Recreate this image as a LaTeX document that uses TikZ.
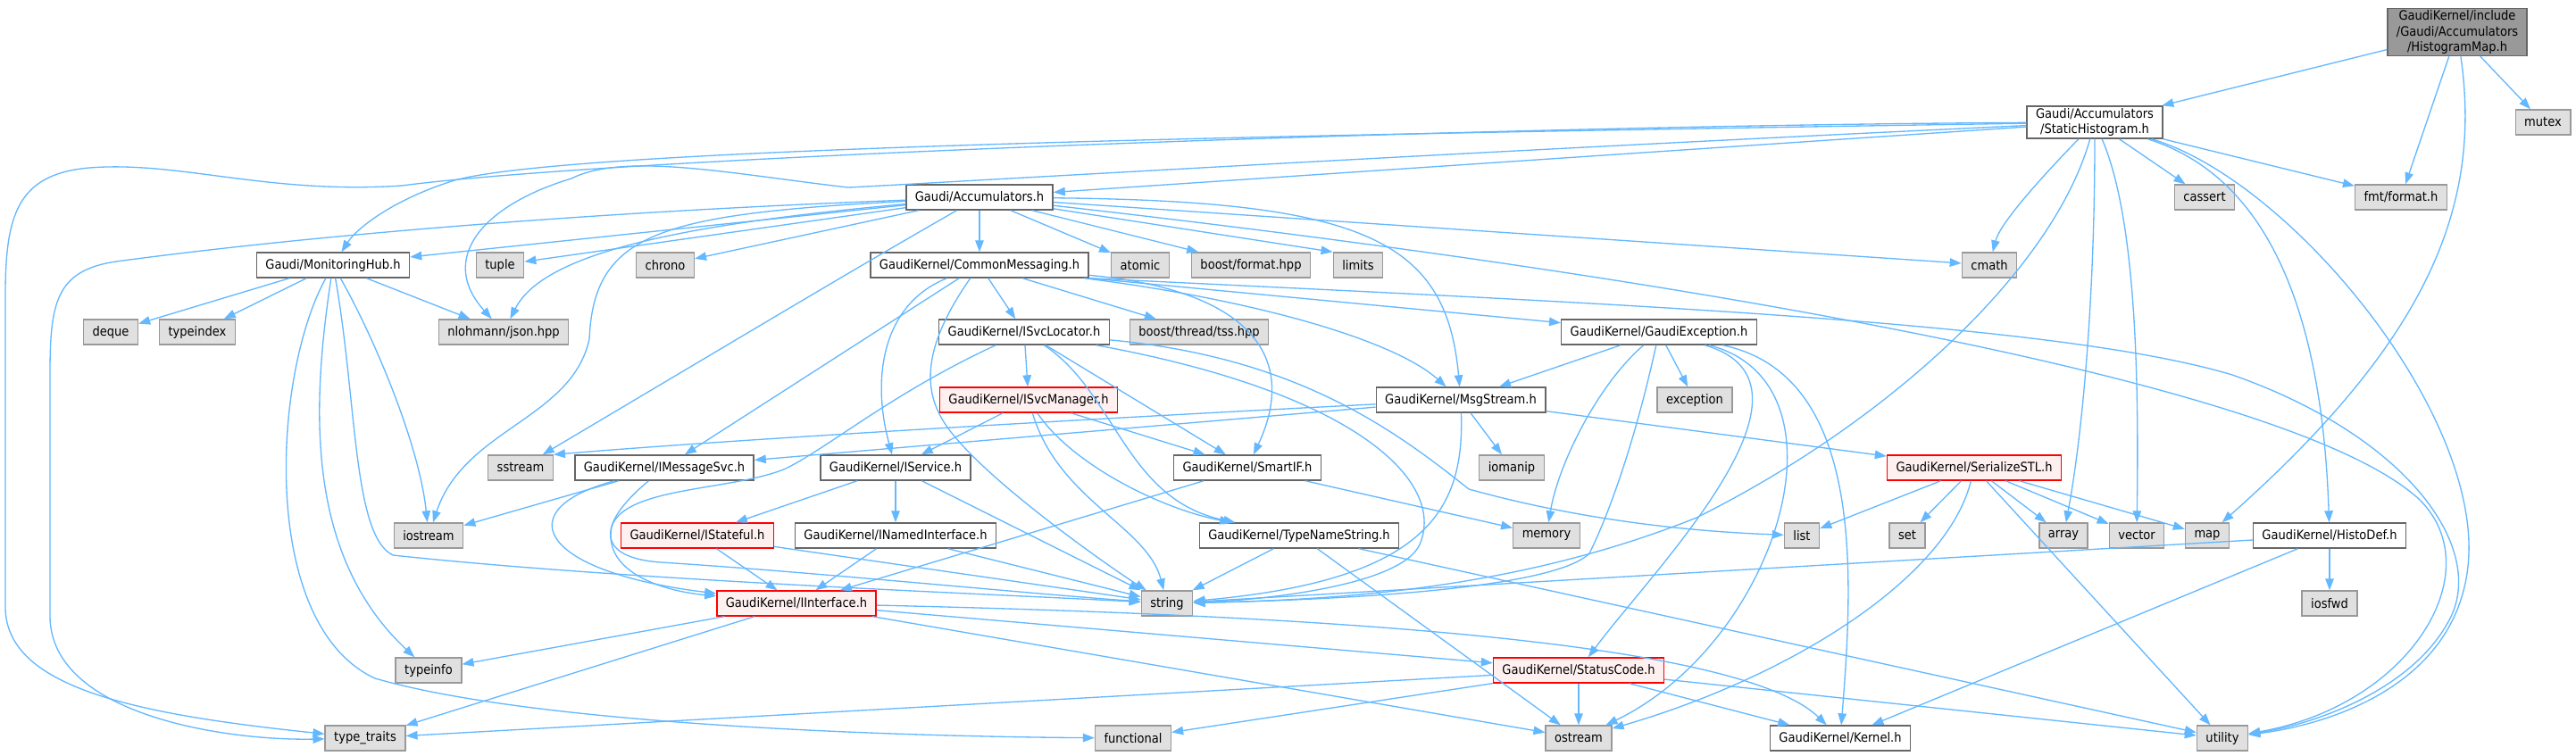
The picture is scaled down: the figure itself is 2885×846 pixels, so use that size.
\documentclass[tikz,border=0pt]{standalone}
\usepackage{fontspec}
\usepackage{xcolor}
\usepackage{tikz}
\usetikzlibrary{arrows.meta}
\newfontfamily\dxfamily{DejaVu Sans}[FakeStretch=0.9]
\newcommand\dxfont{\dxfamily\fontsize{8.25pt}{9.7pt}\selectfont}
\definecolor{edgeblue}{HTML}{63B8FF}
\definecolor{rimgrey}{HTML}{666666}
\definecolor{sysfill}{HTML}{E0E0E0}
\definecolor{sysrim}{HTML}{999999}
\definecolor{redfill}{HTML}{FFF0F0}
\tikzset{hbox/.style={draw=rimgrey,fill=white,line width=0.8pt,font=\dxfont,
  inner xsep=0.2cm,inner ysep=0.05cm,minimum height=0.56cm,align=center},
  xbox/.style={hbox,draw=sysrim,fill=sysfill},
  rbox/.style={hbox,draw=red,fill=redfill},
  mainbox/.style={hbox,fill=sysrim,draw=rimgrey},
  incl/.style={-{Triangle[length=0.26cm,width=0.19cm]},line width=0.75pt,draw=edgeblue}}

\begin{document}
\begin{tikzpicture}[x=0.02cm,y=-0.02cm]
\fill[white] (0,0) rectangle (2885,846);
\node[mainbox] (hm) at (2752,36) {GaudiKernel/include\\/Gaudi/Accumulators\\/HistogramMap.h};
\node[hbox] (sh) at (2346,137) {Gaudi/Accumulators\\/StaticHistogram.h};
\node[xbox] (mutex) at (2848,137) {mutex};
\node[hbox] (acc) at (1097,221) {Gaudi/Accumulators.h};
\node[xbox] (cassert) at (2469,221) {cassert};
\node[xbox] (fmtf) at (2689,221) {fmt/format.h};
\node[hbox] (mon) at (373,297) {Gaudi/MonitoringHub.h};
\node[xbox] (tuple) at (560,297) {tuple};
\node[xbox] (chrono) at (745,297) {chrono};
\node[hbox] (cmsg) at (1097,297) {GaudiKernel/CommonMessaging.h};
\node[xbox] (atomic) at (1277,297) {atomic};
\node[xbox] (bfmt) at (1401,297) {boost/format.hpp};
\node[xbox] (limits) at (1521,297) {limits};
\node[xbox] (cmath) at (2228,297) {cmath};
\node[xbox] (deque) at (124,372) {deque};
\node[xbox] (typeindex) at (221,372) {typeindex};
\node[xbox] (json) at (564,372) {nlohmann/json.hpp};
\node[hbox] (svcloc) at (1147,372) {GaudiKernel/ISvcLocator.h};
\node[xbox] (tss) at (1343,372) {boost/thread/tss.hpp};
\node[hbox] (gexc) at (1858,372) {GaudiKernel/GaudiException.h};
\node[rbox] (svcmgr) at (1152,448) {GaudiKernel/ISvcManager.h};
\node[hbox] (msgs) at (1636,448) {GaudiKernel/MsgStream.h};
\node[xbox] (exception) at (1898,448) {exception};
\node[xbox] (sstream) at (583,524) {sstream};
\node[hbox] (imsg) at (744,524) {GaudiKernel/IMessageSvc.h};
\node[hbox] (isvc) at (1003,524) {GaudiKernel/IService.h};
\node[hbox] (smartif) at (1397,524) {GaudiKernel/SmartIF.h};
\node[xbox] (iomanip) at (1693,524) {iomanip};
\node[rbox] (sstl) at (2211,524) {GaudiKernel/SerializeSTL.h};
\node[xbox] (iostream) at (480,600) {iostream};
\node[rbox] (istate) at (781,600) {GaudiKernel/IStateful.h};
\node[hbox] (inamed) at (1003,600) {GaudiKernel/INamedInterface.h};
\node[hbox] (tns) at (1455,600) {GaudiKernel/TypeNameString.h};
\node[xbox] (memory) at (1732,600) {memory};
\node[xbox] (list) at (2018,600) {list};
\node[xbox] (set) at (2136,600) {set};
\node[xbox] (array) at (2311,600) {array};
\node[xbox] (vector) at (2393,600) {vector};
\node[xbox] (map) at (2472,600) {map};
\node[hbox] (histodef) at (2609,600) {GaudiKernel/HistoDef.h};
\node[rbox] (iif) at (892,676) {GaudiKernel/IInterface.h};
\node[xbox] (string) at (1307,676) {string};
\node[xbox] (iosfwd) at (2609,676) {iosfwd};
\node[xbox] (typeinfo) at (480,751) {typeinfo};
\node[rbox] (status) at (1768,751) {GaudiKernel/StatusCode.h};
\node[xbox] (ttraits) at (409,827) {type\_traits};
\node[xbox] (functional) at (1269,827) {functional};
\node[xbox] (ostream) at (1768,827) {ostream};
\node[hbox] (kernel) at (2061,827) {GaudiKernel/Kernel.h};
\node[xbox] (utility) at (2489,827) {utility};
\draw[incl] (hm) -- (sh);
\draw[incl] (hm) -- (fmtf);
\draw[incl] (hm) .. controls (2780,230) and (2720,380) .. (map);
\draw[incl] (hm) -- (mutex);
\draw[incl] (sh) -- (acc);
\draw[incl] (sh) .. controls (1500,150) and (600,165) .. (500,205) .. controls (440,225) and (400,255) .. (mon);
\draw[incl] (sh) .. controls (1600,172) and (1050,205) .. (950,210) .. controls (820,195) and (700,170) .. (640,200) .. controls (540,230) and (490,290) .. (json);
\draw[incl] (sh) .. controls (1700,140) and (700,175) .. (450,208) .. controls (300,218) and (200,180) .. (100,188) .. controls (20,195) and (6,240) .. (6,330) -- (6,680) .. controls (6,770) and (150,800) .. (ttraits);
\draw[incl] (sh) .. controls (2285,200) and (2240,250) .. (cmath);
\draw[incl] (sh) .. controls (2300,300) and (2120,470) .. (1900,580) .. controls (1700,660) and (1500,672) .. (string);
\draw[incl] (sh) .. controls (2346,350) and (2330,500) .. (array);
\draw[incl] (sh) .. controls (2395,250) and (2395,450) .. (vector);
\draw[incl] (sh) -- (cassert);
\draw[incl] (sh) -- (fmtf);
\draw[incl] (sh) .. controls (2530,195) and (2600,330) .. (histodef);
\draw[incl] (sh) .. controls (2560,200) and (2770,450) .. (2765,620) .. controls (2760,760) and (2620,810) .. (utility);
\draw[incl] (acc) -- (mon);
\draw[incl] (acc) -- (tuple);
\draw[incl] (acc) -- (chrono);
\draw[incl] (acc) -- (cmsg);
\draw[incl] (acc) -- (atomic);
\draw[incl] (acc) -- (bfmt);
\draw[incl] (acc) -- (limits.north west);
\draw[incl] (acc) -- (cmath);
\draw[incl] (acc) .. controls (960,300) .. (sstream);
\draw[incl] (acc) .. controls (1530,225) and (1620,270) .. (msgs);
\draw[incl] (acc) .. controls (780,250) and (610,280) .. (json);
\draw[incl] (acc) .. controls (740,240) and (665,260) .. (660,380) .. controls (640,470) and (520,480) .. (iostream);
\draw[incl] (acc) .. controls (600,240) and (300,270) .. (130,293) .. controls (62,303) and (56,340) .. (56,420) -- (56,690) .. controls (56,800) and (250,830) .. (ttraits);
\draw[incl] (acc) .. controls (1800,300) and (2560,420) .. (2710,560) .. controls (2790,640) and (2700,790) .. (utility);
\draw[incl] (mon) -- (deque);
\draw[incl] (mon) -- (typeindex);
\draw[incl] (mon) -- (json);
\draw[incl] (mon) .. controls (305,420) and (290,700) .. (420,760) .. controls (600,812) and (1000,825) .. (functional);
\draw[incl] (mon) .. controls (350,450) and (340,620) .. (typeinfo);
\draw[incl] (mon) .. controls (400,450) and (395,600) .. (440,622) .. controls (700,650) and (1100,665) .. (string);
\draw[incl] (mon) .. controls (420,380) and (470,500) .. (iostream);
\draw[incl] (cmsg) -- (svcloc);
\draw[incl] (cmsg) -- (tss);
\draw[incl] (cmsg.south east) -- (gexc);
\draw[incl] (cmsg) -- (imsg);
\draw[incl] (cmsg) .. controls (990,340) and (975,420) .. (isvc);
\draw[incl] (cmsg) .. controls (1025,400) and (1035,450) .. (1070,490) .. controls (1120,550) and (1250,640) .. (string);
\draw[incl] (cmsg) .. controls (1400,335) and (1560,380) .. (msgs);
\draw[incl] (cmsg) .. controls (1400,325) and (1455,400) .. (smartif);
\draw[incl] (cmsg.south east) .. controls (1800,340) and (2300,360) .. (2500,420) .. controls (2700,490) and (2790,620) .. (2740,700) .. controls (2700,770) and (2600,810) .. (utility);
\draw[incl] (svcloc) .. controls (1000,440) and (930,500) .. (880,525) .. controls (820,550) and (700,545) .. (685,590) .. controls (675,640) and (740,662) .. (iif);
\draw[incl] (svcloc) -- (svcmgr);
\draw[incl] (svcloc) -- (smartif);
\draw[incl] (svcloc) .. controls (1250,440) and (1260,560) .. (tns);
\draw[incl] (svcloc) .. controls (1520,440) and (1620,540) .. (1590,610) .. controls (1570,655) and (1420,672) .. (string);
\draw[incl] (svcloc) .. controls (1450,400) and (1560,480) .. (1645,548) .. controls (1760,580) and (1880,595) .. (list);
\draw[incl] (svcmgr) -- (isvc);
\draw[incl] (svcmgr) -- (smartif);
\draw[incl] (svcmgr) .. controls (1200,520) and (1300,570) .. (tns);
\draw[incl] (svcmgr) .. controls (1185,560) and (1285,590) .. (string);
\draw[incl] (gexc) -- (msgs);
\draw[incl] (gexc) -- (exception);
\draw[incl] (gexc) .. controls (1790,430) and (1745,520) .. (memory);
\draw[incl] (gexc) .. controls (1830,500) and (1800,580) .. (1780,620) .. controls (1740,660) and (1500,672) .. (string);
\draw[incl] (gexc) .. controls (2060,430) and (1850,640) .. (status);
\draw[incl] (gexc) .. controls (2080,430) and (1990,720) .. (ostream);
\draw[incl] (gexc) .. controls (2090,420) and (2075,650) .. (kernel);
\draw[incl] (msgs) .. controls (1300,465) and (850,490) .. (sstream.north east);
\draw[incl] (msgs) -- (imsg);
\draw[incl] (msgs) -- (iomanip);
\draw[incl] (msgs) .. controls (1640,570) and (1600,650) .. (string);
\draw[incl] (msgs) -- (sstl);
\draw[incl] (imsg) -- (iostream);
\draw[incl] (imsg) .. controls (570,570) and (600,640) .. (iif);
\draw[incl] (imsg) .. controls (665,590) and (670,625) .. (740,630) .. controls (900,640) and (1150,665) .. (string);
\draw[incl] (isvc) -- (istate);
\draw[incl] (isvc) -- (inamed);
\draw[incl] (isvc) -- (string);
\draw[incl] (smartif) -- (iif);
\draw[incl] (smartif) -- (memory);
\draw[incl] (istate) -- (iif);
\draw[incl] (istate) -- (string);
\draw[incl] (inamed) -- (iif);
\draw[incl] (inamed) -- (string);
\draw[incl] (tns) -- (string);
\draw[incl] (tns) -- (ostream);
\draw[incl] (tns) -- (utility);
\draw[incl] (iif) -- (typeinfo);
\draw[incl] (iif) -- (ttraits);
\draw[incl] (iif) -- (status);
\draw[incl] (iif) -- (ostream);
\draw[incl] (iif) .. controls (1500,690) and (1950,720) .. (kernel);
\draw[incl] (status) -- (functional);
\draw[incl] (status) -- (ttraits);
\draw[incl] (status) -- (ostream);
\draw[incl] (status) -- (kernel);
\draw[incl] (status) -- (utility);
\draw[incl] (sstl) -- (list);
\draw[incl] (sstl) -- (set);
\draw[incl] (sstl) -- (array);
\draw[incl] (sstl) -- (vector);
\draw[incl] (sstl) -- (map);
\draw[incl] (sstl) .. controls (2180,650) and (2000,760) .. (ostream);
\draw[incl] (sstl) -- (utility);
\draw[incl] (histodef) -- (string);
\draw[incl] (histodef) -- (iosfwd);
\draw[incl] (histodef) -- (kernel);
\end{tikzpicture}
\end{document}
